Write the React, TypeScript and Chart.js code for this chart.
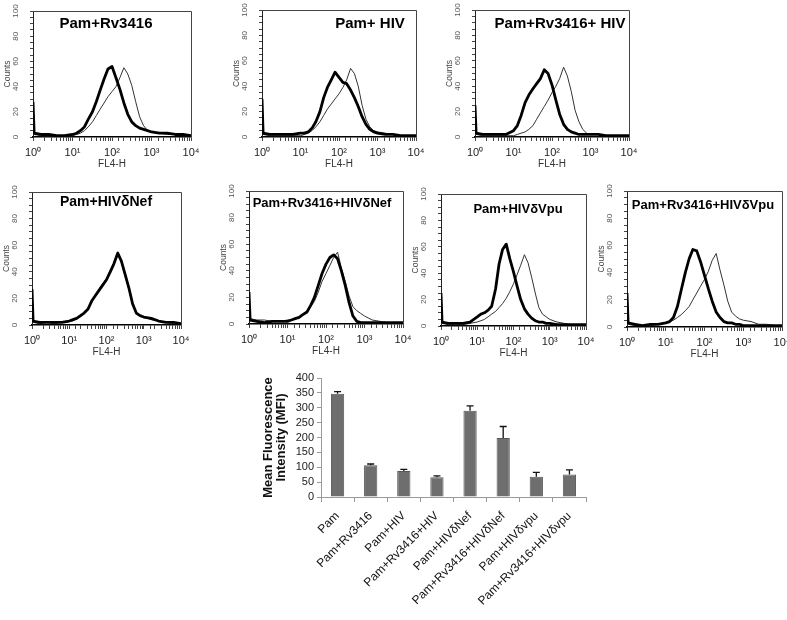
import React, { useEffect, useRef } from 'react';
import { Chart, registerables } from 'chart.js';

Chart.register(...registerables);

const FONT = "'Liberation Sans', Arial, Helvetica, sans-serif";

// Histogram bin centres on the FL4-H (log) axis
const BINS = [1, 1.07, 1.6, 2.5, 4, 6.3, 10, 12.6, 15.8, 20, 25, 32, 40, 50, 63, 79, 100, 126, 158, 200, 251, 316, 398, 501, 631, 794, 1000, 1585, 2512, 3981, 6310, 10000];
const X_TICK_LABELS: Record<number, string> = { 1: '10⁰', 10: '10¹', 100: '10²', 1000: '10³', 10000: '10⁴' };
const Y_TICK_LABELS = [0, 20, 40, 60, 80, 100];

// Counts per bin: thick = Pam control, thin = treatment
const P1_THICK = [28, 3, 2, 2, 1, 1, 2, 3, 5, 8, 14, 20, 28, 37, 46, 54, 56, 47, 38, 27, 18, 12, 9, 7, 6, 5, 4, 3, 3, 2, 2, 1];
const P1_THIN = [20, 2, 1, 1, 1, 1, 1, 2, 3, 5, 8, 12, 17, 22, 27, 32, 36, 40, 47, 55, 50, 41, 28, 16, 9, 5, 4, 3, 2, 2, 1, 1];
const P2_THICK = [30, 3, 2, 2, 2, 2, 3, 3, 4, 7, 12, 20, 31, 39, 45, 51, 47, 43, 42, 37, 31, 24, 16, 10, 6, 4, 3, 2, 2, 1, 1, 1];
const P2_THIN = [20, 2, 1, 1, 1, 1, 1, 2, 3, 5, 8, 12, 17, 22, 26, 30, 34, 39, 45, 54, 50, 40, 25, 14, 8, 5, 4, 3, 2, 1, 1, 1];
const P3_THICK = [25, 3, 2, 2, 2, 2, 5, 9, 17, 27, 33, 38, 42, 46, 53, 50, 41, 29, 18, 10, 6, 4, 3, 2, 2, 2, 2, 2, 1, 1, 1, 1];
const P3_THIN = [15, 2, 1, 1, 1, 1, 1, 2, 3, 4, 6, 9, 14, 19, 24, 29, 35, 40, 46, 55, 48, 36, 21, 12, 6, 3, 2, 2, 1, 1, 1, 0];
const P4_THICK = [27, 3, 2, 2, 2, 2, 3, 4, 5, 7, 9, 12, 18, 22, 26, 30, 34, 40, 46, 54, 48, 38, 28, 16, 9, 7, 6, 5, 3, 2, 2, 1];
const P4_THIN = [20, 2, 1, 2, 1, 2, 3, 3, 5, 6, 9, 13, 17, 23, 27, 31, 35, 41, 47, 55, 47, 37, 27, 15, 9, 7, 6, 4, 3, 2, 1, 1];
const P5_THICK = [24, 3, 2, 1, 2, 2, 2, 3, 4, 5, 7, 9, 14, 20, 29, 38, 45, 50, 52, 49, 40, 29, 16, 6, 2, 1, 1, 1, 1, 1, 1, 1];
const P5_THIN = [15, 4, 3, 3, 2, 2, 3, 3, 4, 5, 7, 9, 13, 17, 24, 32, 38, 44, 50, 54, 42, 32, 21, 13, 10, 8, 6, 3, 2, 1, 1, 1];
const P6_THICK = [25, 3, 2, 2, 2, 3, 7, 9, 10, 12, 15, 28, 47, 58, 62, 51, 41, 30, 20, 13, 9, 6, 4, 3, 3, 2, 2, 1, 1, 1, 1, 1];
const P6_THIN = [15, 2, 1, 1, 1, 2, 3, 4, 5, 7, 9, 11, 14, 17, 21, 26, 32, 39, 46, 54, 48, 37, 25, 14, 9, 7, 5, 3, 2, 1, 1, 0];
const P7_THICK = [25, 3, 2, 1, 2, 2, 3, 4, 7, 15, 27, 40, 50, 57, 56, 48, 38, 28, 19, 11, 7, 4, 3, 3, 2, 2, 1, 1, 1, 1, 1, 1];
const P7_THIN = [15, 2, 1, 1, 1, 2, 3, 4, 5, 7, 9, 12, 15, 20, 25, 30, 35, 41, 49, 54, 42, 31, 19, 11, 8, 6, 5, 4, 2, 2, 1, 1];

const PANEL_TITLES = ['Pam+Rv3416', 'Pam+ HIV', 'Pam+Rv3416+ HIV', 'Pam+HIVδNef', 'Pam+Rv3416+HIVδNef', 'Pam+HIVδVpu', 'Pam+Rv3416+HIVδVpu'];

// Bar chart data
const BAR_CATEGORIES = ['Pam', 'Pam+Rv3416', 'Pam+HIV', 'Pam+Rv3416+HIV', 'Pam+HIVδNef', 'Pam+Rv3416+HIVδNef', 'Pam+HIVδvpu', 'Pam+Rv3416+HIVδvpu'];
const MFI_VALUES = [347, 107, 87, 66, 290, 198, 68, 76];
const MFI_ERRORS = [7, 4, 6, 5, 16, 39, 15, 15];
const MFI_TITLE = ['Mean Fluorescence', 'Intensity (MFI)'];

// Layout: plot-area boxes [left, top, right, bottom] and title placement
const PANELS = [
  { title: PANEL_TITLES[0], thick: P1_THICK, thin: P1_THIN, box: [33, 11, 191, 137], tx: 106, ty: 22, ts: 15 },
  { title: PANEL_TITLES[1], thick: P2_THICK, thin: P2_THIN, box: [262, 10, 416, 137], tx: 370, ty: 22, ts: 15 },
  { title: PANEL_TITLES[2], thick: P3_THICK, thin: P3_THIN, box: [475, 10, 629, 137], tx: 560, ty: 22, ts: 15 },
  { title: PANEL_TITLES[3], thick: P4_THICK, thin: P4_THIN, box: [32, 192, 181, 325], tx: 106, ty: 201, ts: 14 },
  { title: PANEL_TITLES[4], thick: P5_THICK, thin: P5_THIN, box: [249, 191, 403, 324], tx: 322, ty: 202, ts: 13 },
  { title: PANEL_TITLES[5], thick: P6_THICK, thin: P6_THIN, box: [441, 194, 586, 326], tx: 518, ty: 208, ts: 13 },
  { title: PANEL_TITLES[6], thick: P7_THICK, thin: P7_THIN, box: [627, 191, 782, 327], tx: 703, ty: 204, ts: 13 },
];

const framePlugin = {
  id: 'frame',
  afterDraw(chart: any) {
    const { ctx, chartArea } = chart;
    const { left, top, right, bottom } = chartArea;
    ctx.save();
    ctx.strokeStyle = '#444';
    ctx.lineWidth = 1;
    ctx.beginPath();
    ctx.moveTo(left, Math.round(top) + 0.5);
    ctx.lineTo(Math.round(right) + 0.5, Math.round(top) + 0.5);
    ctx.lineTo(Math.round(right) + 0.5, bottom);
    ctx.stroke();
    ctx.restore();
  },
};

function Histogram(props: { thick: number[]; thin: number[]; box: number[] }) {
  const ref = useRef<HTMLCanvasElement>(null);
  const [L, T, R, B] = props.box;
  const YW = 30, XH = 33, PR = 12, PB = 2;
  const PT = Math.min(10, T);
  const w = YW + (R - L) + PR;
  const h = PT + (B - T) + XH + PB;
  useEffect(() => {
    const chart = new Chart(ref.current as HTMLCanvasElement, {
      type: 'line',
      data: {
        datasets: [
          {
            data: BINS.map((x, i) => ({ x, y: props.thick[i] })),
            borderColor: '#000',
            borderWidth: 2.8,
            pointRadius: 0,
            tension: 0,
            borderJoinStyle: 'round',
          },
          {
            data: BINS.map((x, i) => ({ x, y: props.thin[i] })),
            borderColor: '#333',
            borderWidth: 1,
            pointRadius: 0,
            tension: 0,
          },
        ],
      },
      options: {
        responsive: false,
        animation: false,
        events: [],
        layout: { padding: { left: 0, top: PT, right: PR, bottom: PB } },
        plugins: { legend: { display: false }, tooltip: { enabled: false } },
        scales: {
          x: {
            type: 'logarithmic',
            min: 1,
            max: 10000,
            grid: { drawOnChartArea: false, drawTicks: true, tickLength: 4, color: '#444' },
            border: { display: true, color: '#000', width: 1.5 },
            ticks: {
              autoSkip: false,
              minRotation: 0,
              maxRotation: 0,
              padding: 5,
              color: '#222',
              font: { family: FONT, size: 11 },
              callback: (v: any) => X_TICK_LABELS[Number(v)] ?? '',
            },
            title: { display: true, text: 'FL4-H', color: '#333', font: { family: FONT, size: 10 }, padding: 0 },
            afterFit: (s: any) => {
              s.height = XH;
              s.paddingLeft = 0;
              s.paddingRight = 0;
            },
          } as any,
          y: {
            min: 0,
            max: 100,
            grid: { drawOnChartArea: false, drawTicks: true, tickLength: 3, color: '#444' },
            border: { display: true, color: '#222', width: 1 },
            ticks: {
              stepSize: 5,
              autoSkip: false,
              minRotation: 90,
              maxRotation: 90,
              crossAlign: 'center',
              padding: 8,
              color: '#555',
              font: { family: FONT, size: 8 },
              callback: (v: any) => (Y_TICK_LABELS.includes(Number(v)) ? String(v) : ''),
            },
            title: { display: true, text: 'Counts', color: '#444', font: { family: FONT, size: 8.5 }, padding: 0 },
            afterFit: (s: any) => {
              s.width = YW;
              s.paddingTop = 0;
              s.paddingBottom = 0;
            },
          } as any,
        },
      },
      plugins: [framePlugin],
    });
    return () => chart.destroy();
  }, []);
  return (
    <canvas
      ref={ref}
      width={w}
      height={h}
      style={{ position: 'absolute', left: L - YW, top: T - PT, width: w, height: h }}
    />
  );
}

const errorBarPlugin = {
  id: 'errorBars',
  afterDatasetsDraw(chart: any) {
    const { ctx } = chart;
    const meta = chart.getDatasetMeta(0);
    const yScale = chart.scales.y;
    ctx.save();
    ctx.strokeStyle = '#111';
    ctx.lineWidth = 1.3;
    meta.data.forEach((bar: any, i: number) => {
      const top = yScale.getPixelForValue(MFI_VALUES[i] + MFI_ERRORS[i]);
      ctx.beginPath();
      ctx.moveTo(bar.x, bar.y);
      ctx.lineTo(bar.x, top);
      ctx.moveTo(bar.x - 3.5, top);
      ctx.lineTo(bar.x + 3.5, top);
      ctx.stroke();
    });
    ctx.restore();
  },
};

function BarChart() {
  const ref = useRef<HTMLCanvasElement>(null);
  const L = 321, T = 378, R = 586, B = 497;
  const YW = 70, XH = 120, PT = 8, PR = 20, PB = 3;
  const w = YW + (R - L) + PR;
  const h = PT + (B - T) + XH + PB;
  useEffect(() => {
    const chart = new Chart(ref.current as HTMLCanvasElement, {
      type: 'bar',
      data: {
        labels: BAR_CATEGORIES,
        datasets: [
          {
            data: MFI_VALUES,
            backgroundColor: '#6e6e6e',
            borderColor: '#585858',
            borderWidth: 1,
            barPercentage: 0.4,
            categoryPercentage: 1,
          },
        ],
      },
      options: {
        responsive: false,
        animation: false,
        events: [],
        layout: { padding: { left: 0, top: PT, right: PR, bottom: PB } },
        plugins: { legend: { display: false }, tooltip: { enabled: false } },
        scales: {
          x: {
            grid: { drawOnChartArea: false, drawTicks: true, tickLength: 5, color: '#9a9a9a', offset: true },
            border: { display: true, color: '#9a9a9a', width: 1 },
            ticks: {
              autoSkip: false,
              minRotation: 45,
              maxRotation: 45,
              padding: 7,
              color: '#111',
              font: { family: FONT, size: 12 },
            },
            afterFit: (s: any) => {
              s.height = XH;
              s.paddingLeft = 0;
              s.paddingRight = 0;
            },
          } as any,
          y: {
            min: 0,
            max: 400,
            grid: { drawOnChartArea: false, drawTicks: true, tickLength: 4, color: '#9a9a9a' },
            border: { display: true, color: '#9a9a9a', width: 1 },
            ticks: { stepSize: 50, autoSkip: false, padding: 3, color: '#222', font: { family: FONT, size: 11 } },
            title: {
              display: true,
              text: MFI_TITLE,
              color: '#111',
              font: { family: FONT, size: 13, weight: 'bold', lineHeight: 1 },
              padding: { top: 11, bottom: 0 },
            },
            afterFit: (s: any) => {
              s.width = YW;
              s.paddingTop = 0;
              s.paddingBottom = 0;
            },
          } as any,
        },
      },
      plugins: [errorBarPlugin],
    });
    return () => chart.destroy();
  }, []);
  return (
    <canvas
      ref={ref}
      width={w}
      height={h}
      style={{ position: 'absolute', left: L - YW, top: T - PT, width: w, height: h }}
    />
  );
}

export default function App() {
  return (
    <div
      style={{
        position: 'absolute',
        left: 0,
        top: 0,
        width: 787,
        height: 620,
        overflow: 'hidden',
        background: '#fff',
        fontFamily: FONT,
      }}
    >
      {PANELS.map((p, i) => (
        <Histogram key={'h' + i} thick={p.thick} thin={p.thin} box={p.box} />
      ))}
      {PANELS.map((p, i) => (
        <div
          key={'t' + i}
          style={{
            position: 'absolute',
            left: p.tx,
            top: p.ty,
            transform: 'translate(-50%, -50%)',
            fontWeight: 'bold',
            fontSize: p.ts,
            lineHeight: 1,
            whiteSpace: 'nowrap',
            color: '#000',
          }}
        >
          {p.title}
        </div>
      ))}
      <BarChart />
    </div>
  );
}
